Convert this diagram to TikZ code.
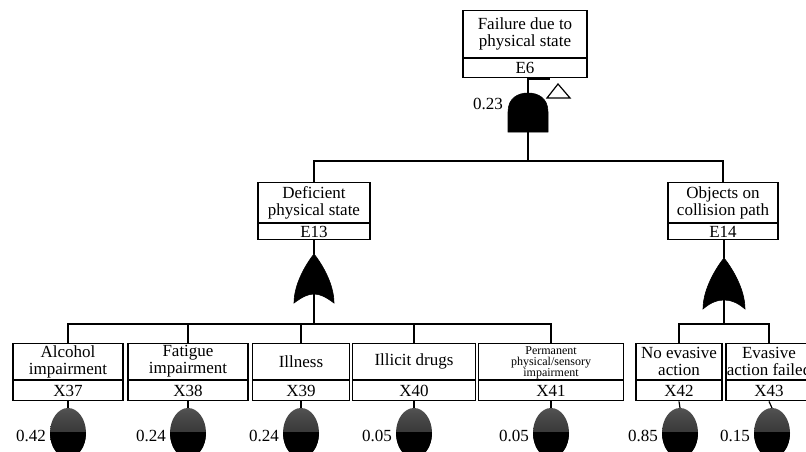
\documentclass[tikz,border=0pt]{standalone}
\usepackage{fontspec}
\setmainfont{Liberation Serif}
\tikzset{
  ln/.style={line width=1.2pt},
  evtop/.style={draw, line width=1.2pt, inner sep=0pt, align=center, anchor=north},
  evbot/.style={draw, line width=1.2pt, inner sep=0pt, align=center, anchor=north},
  ball/.style={top color=black!68, bottom color=black!88, shading angle=0},
  prob/.style={anchor=east, inner sep=0pt},
  gatefill/.style={fill=black, draw=black, line width=0.6pt},
  smalltxt/.style={inner sep=0pt, align=center, font=\fontsize{12}{11}\selectfont}
}
% \evbox{name}{cx}{top}{width}{upper h}{lower h}{text}{id}
\newcommand{\evbox}[8]{%
  \node[evtop, minimum width=#4pt, minimum height=#5pt] (#1) at (#2,#3) {#7};
  \node[evbot, minimum width=#4pt, minimum height=#6pt] (#1id) at (#1.south) {#8};
}
% \basic{name}{cx}{prob}
\newcommand{\basic}[3]{%
  \coordinate (#1c) at (#2,433);
  \shade[ball] (#1c) ellipse [x radius=18pt, y radius=25pt];
  \begin{scope}
    \clip (#2-20,432) rectangle (#2+20,460);
    \fill[black] (#1c) ellipse [x radius=18pt, y radius=25pt];
  \end{scope}
  \node[prob] (#1p) at (#2-22,436) {#3};
  \draw[ln] (#1id.south) -- (#2,408);
}
\begin{document}
\begin{tikzpicture}[x=1pt,y=-1pt,font=\fontsize{17}{17}\selectfont]
\useasboundingbox (0,0) rectangle (806,452);
\clip (0,0) rectangle (806,452);

% top event
\evbox{E6}{525}{10}{124}{47}{19}{Failure due to\\physical state}{E6}
% AND gate
\path[gatefill] (508,132) -- (508,112) .. controls (508,98) and (518,93) .. (528,93)
  .. controls (538,93) and (548,98) .. (548,112) -- (548,132) -- cycle;
\coordinate (g6in) at (528,93);
\coordinate (g6out) at (528,132);
\node[prob] (p6) at (503,104) {0.23};
\draw[ln] (E6id.south -| g6in) -- (g6in);
% transfer flag
\draw[ln] (528,79) -- (550,79);
\draw[line width=1.2pt] (558,84) -- (570,98) -- (547,98) -- cycle;

\coordinate (bus6) at (528,161);
\draw[ln] (g6out) -- (bus6);

% intermediate events
\evbox{E13}{314}{182}{112}{40}{16}{Deficient\\physical state}{E13}
\evbox{E14}{723}{182}{110}{40}{16}{Objects on\\collision path}{E14}
\draw[ln] (bus6) -| (E13.north);
\draw[ln] (bus6) -| (E14.north);

% OR gate E13
\path[gatefill] (314,254) .. controls (322,264) and (334,284) .. (334,303)
  .. controls (326,297) and (320,294) .. (314,294)
  .. controls (308,294) and (302,297) .. (294,303)
  .. controls (294,284) and (306,264) .. (314,254) -- cycle;
\coordinate (g13in) at (314,254);
\coordinate (g13out) at (314,294);
\coordinate (bus13) at (314,324);
\draw[ln] (E13id.south) -- (g13in);
\draw[ln] (g13out) -- (bus13);

% OR gate E14
\path[gatefill] (724,258) .. controls (732,268) and (745,289) .. (745,309)
  .. controls (737,302) and (730,300) .. (724,300)
  .. controls (718,300) and (711,302) .. (703,309)
  .. controls (703,289) and (716,268) .. (724,258) -- cycle;
\coordinate (g14in) at (724,258);
\coordinate (g14out) at (724,300);
\coordinate (bus14) at (724,324);
\draw[ln] (E14id.south -| g14in) -- (g14in);
\draw[ln] (g14out) -- (bus14);

% basic events
\evbox{X37}{68}{343}{110}{36}{20}{Alcohol\\impairment}{X37}
\evbox{X38}{188}{343}{120}{36}{20}{Fatigue\\impairment}{X38}
\evbox{X39}{301}{343}{97}{36}{20}{Illness}{X39}
\evbox{X40}{414}{343}{123}{36}{20}{Illicit drugs}{X40}
\evbox{X41}{551}{343}{145}{36}{20}{}{X41}
\node[smalltxt] (X41t) at ([yshift=-1pt]X41.center) {Permanent\\physical/sensory\\impairment};
\evbox{X42}{679}{343}{86}{36}{20}{No evasive\\action}{X42}
\evbox{X43}{769}{343}{86}{36}{20}{Evasive\\action failed}{X43}

\foreach \n in {X37,X38,X39,X40,X41} {\draw[ln] (bus13) -| (\n.north);}
\foreach \n in {X42,X43} {\draw[ln] (bus14) -| (\n.north);}

\basic{X37}{68}{0.42}
\basic{X38}{188}{0.24}
\basic{X39}{301}{0.24}
\basic{X40}{414}{0.05}
\basic{X41}{551}{0.05}
\basic{X42}{680}{0.85}
\basic{X43}{772}{0.15}
\end{tikzpicture}
\end{document}
